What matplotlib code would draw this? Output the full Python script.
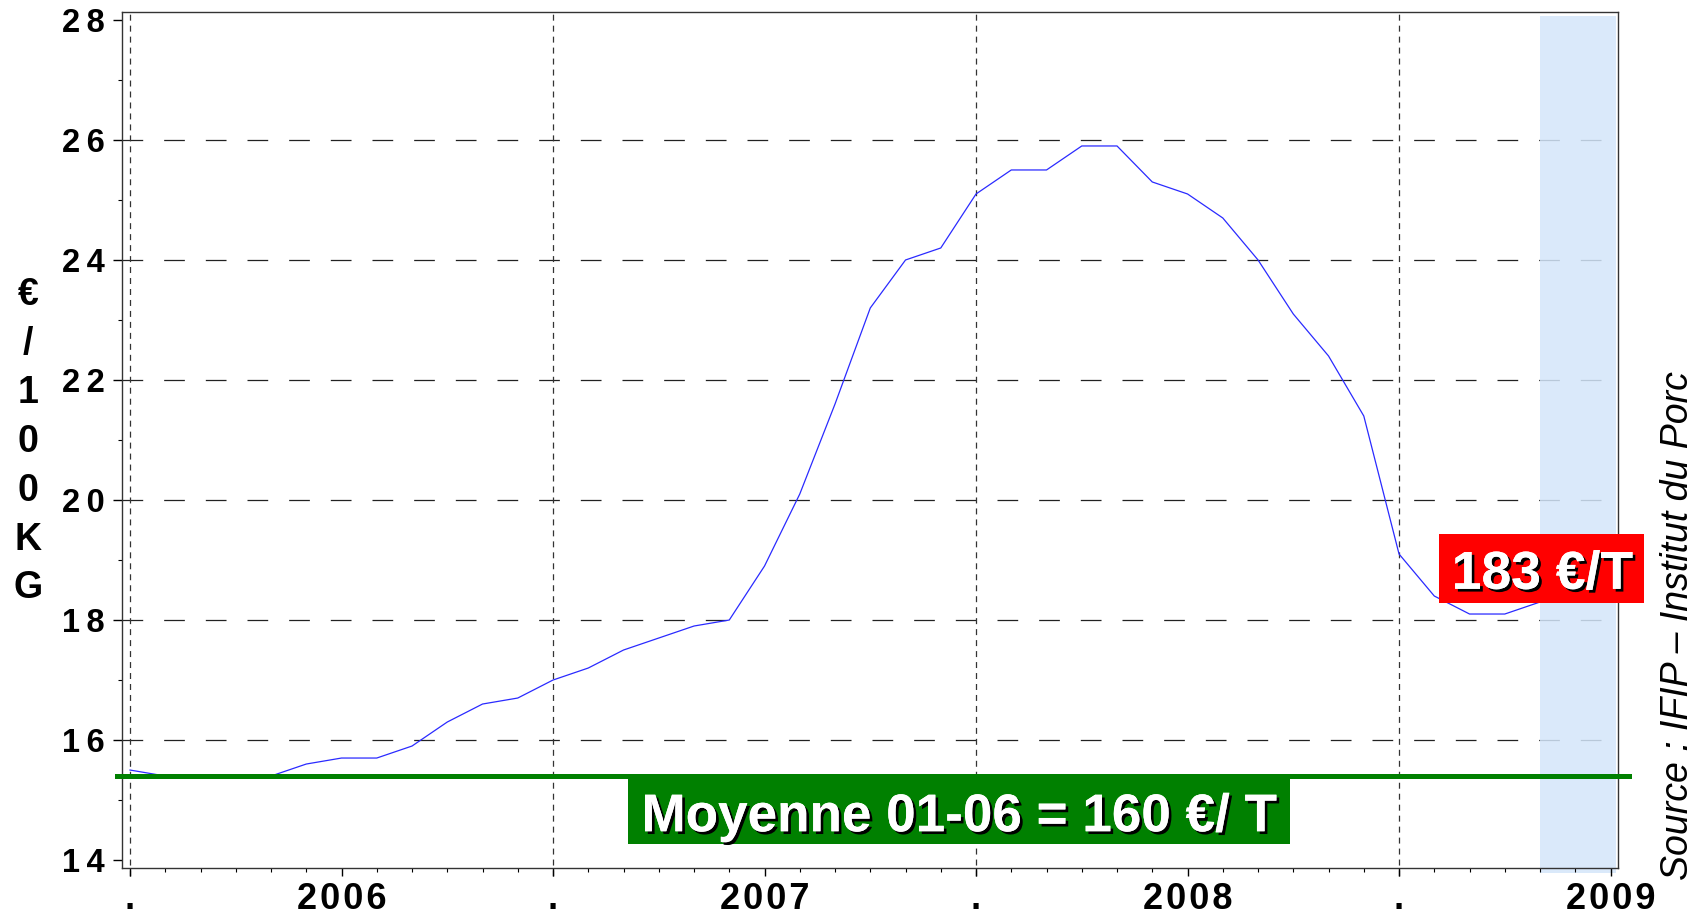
import matplotlib
matplotlib.use('Agg')
import matplotlib.pyplot as plt
import matplotlib.patheffects as pe
from matplotlib.patches import Rectangle
from matplotlib.ticker import MultipleLocator

plt.rcParams['font.family'] = ['Liberation Sans', 'DejaVu Sans']
plt.rcParams['lines.scale_dashes'] = False

# monthly index, 0 = July 2005 ... 40 = Nov 2008
months = list(range(41))
prix = [15.5, 15.4, 15.4, 15.4, 15.4, 15.6, 15.7, 15.7, 15.9, 16.3,
        16.6, 16.7, 17.0, 17.2, 17.5, 17.7, 17.9, 18.0, 18.9, 20.1,
        21.6, 23.2, 24.0, 24.2, 25.1, 25.5, 25.5, 25.9, 25.9, 25.3,
        25.1, 24.7, 24.0, 23.1, 22.4, 21.4, 19.1, 18.4, 18.1, 18.1,
        18.3]
moyenne = 15.4
moyenne_txt = 'Moyenne 01-06 = 160 €/ T'
dernier_txt = '183 €/T'
source_txt = 'Source : IFIP – Institut du Porc'
ylabel_chars = ['€', '/', '1', '0', '0', 'K', 'G']

y_ticks = [14, 16, 18, 20, 22, 24, 26, 28]
x_major = [0, 6, 12, 18, 24, 30, 36, 42]
x_labels = ['.', '2006', '.', '2007', '.', '2008', '.', '2009']
campagnes = [0, 12, 24, 36]

shadow = [pe.withSimplePatchShadow(offset=(2, -2), shadow_rgbFace='black', alpha=1.0), pe.Normal()]

fig = plt.figure(figsize=(17.04, 9.14), dpi=100)
ax = fig.add_axes([0.0716, 0.0503, 0.8779, 0.9366])

ax.set_xlim(-0.227, 42.21)
ax.set_ylim(13.867, 28.133)

# horizontal grid (not at the limits)
for v in y_ticks[1:-1]:
    ax.axhline(v, color='#222222', lw=0.9, ls=(0, (14.9, 15.1)), zorder=1)

# dashed campaign separators
for x in campagnes:
    ax.axvline(x, ymin=-0.0094, ymax=1, color='#333333', lw=0.9,
               ls=(0, (4.3, 3.6)), clip_on=False, zorder=1)

# forecast band
ax.axvspan(months[-1], 42.15, ymin=-0.006, ymax=0.995, color='#d4e6fa',
           alpha=0.85, lw=0, clip_on=False, zorder=1.5)

ax.plot(months, prix, color='#2a2aff', lw=0.9, zorder=3)

ax.axhline(moyenne, xmin=-0.0035, xmax=1.0075, color='#008000', lw=3.6,
           clip_on=False, zorder=4)

# green caption
ax.add_patch(Rectangle((14.13, 14.27), 18.77, 1.13, fc='#008000', ec='none', zorder=5))
ax.text(23.52, 14.48, moyenne_txt, ha='center', va='baseline', fontsize=38.2,
        fontweight='bold', color='white', path_effects=shadow, zorder=6)

# red caption
ax.add_patch(Rectangle((37.13, 18.28), 5.82, 1.15, fc='#ff0000', ec='none',
                       clip_on=False, zorder=5))
ax.text(40.07, 18.52, dernier_txt, ha='center', va='baseline', fontsize=38.5,
        fontweight='bold', color='white', path_effects=shadow, zorder=6,
        clip_on=False)

# axes
ax.set_yticks(y_ticks)
ax.set_yticklabels(['\u2009'.join(str(v)) for v in y_ticks], fontweight='bold')
ax.yaxis.set_minor_locator(MultipleLocator(1))
ax.tick_params(axis='y', which='major', length=6.5, width=1, pad=6, labelsize=23.5)
ax.tick_params(axis='y', which='minor', length=3, width=0.8)

ax.set_xticks(x_major)
ax.set_xticklabels(['\u200a'.join(s) for s in x_labels], fontweight='bold')
ax.xaxis.set_minor_locator(MultipleLocator(1))
ax.tick_params(axis='x', which='major', length=6, width=1, pad=4, labelsize=26)
ax.tick_params(axis='x', which='minor', length=3, width=0.8)

for s in ax.spines.values():
    s.set_color('#333333')
    s.set_linewidth(1)

# vertical stacked y label
for k, ch in enumerate(ylabel_chars):
    fig.text(0.0164, 1 - (295 + 48.9 * k) / 914, ch, ha='center', va='center',
             fontsize=27, fontweight='bold')

fig.text(0.985, 0.037, source_txt, rotation=90, style='italic', fontsize=27,
         ha='center', va='bottom')

fig.savefig('out.png', dpi=100)
